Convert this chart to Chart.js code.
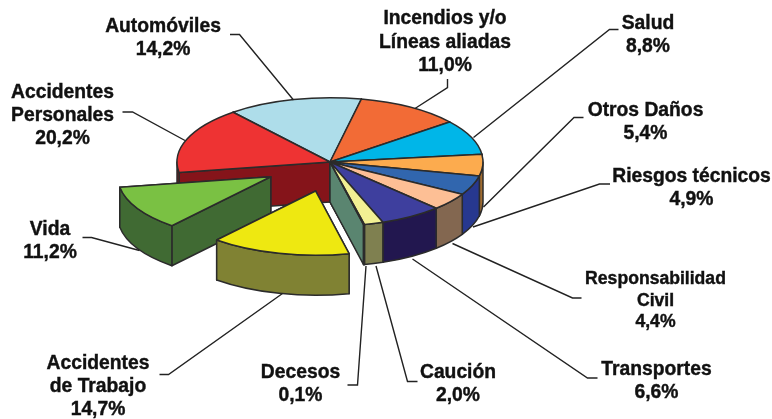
<!DOCTYPE html>
<html lang="es">
<head>
<meta charset="utf-8">
<title>Distribución de primas</title>
<style>html,body{margin:0;padding:0;background:#fff}canvas{display:block}</style>
<script src="https://cdn.jsdelivr.net/npm/chart.js@4"></script>
</head>
<body>
<canvas id="c" width="772" height="419"></canvas>
<script>
// ---- data ----
const categories = ['Automóviles','Incendios y/o Líneas aliadas','Salud','Otros Daños','Riesgos técnicos','Responsabilidad Civil','Transportes','Caución','Decesos','Accidentes de Trabajo','Vida','Accidentes Personales'];
// slice shares as drawn in the picture
const sliceShares = [14.2,11.0,8.8,5.4,4.9,4.4,6.6,2.0,0.1,14.7,11.2,16.7];
// percentages as printed on the labels
const printedPercents = ['14,2%','11,0%','8,8%','5,4%','4,9%','4,4%','6,6%','2,0%','0,1%','14,7%','11,2%','20,2%'];
const pulledOut = ['Accidentes de Trabajo','Vida'];

// ---- styles ----
const topColors  = ['#aeddea','#f26b36','#00b6e8','#fcab4e','#3166ae','#fdbf95','#3e3f9e','#f2f093','#8fc7a8','#eee811','#7ac143','#ee3333'];
const wallColors = ['#6f8d95','#9a4522','#007494','#a06c31','#27388f','#836750','#22174f','#7f8050','#5a8570','#808233','#406a33','#85141a'];
const SQUASH = 0.42, DEPTH = 40, PULL = 71, PULL_SHIFT_X = 2.5, RADIUS = 153, EDGE = '#2b2b2b';

// label layout: line breaks, centre x, baseline of first line, line gap, font size
const labelLayout = [
  {lines:['Automóviles'], x:163, y:32, gap:23},
  {lines:['Incendios y/o','Líneas aliadas'], x:445, y:24, gap:23.5},
  {lines:['Salud'], x:648, y:29, gap:23},
  {lines:['Otros Daños'], x:645.5, y:116, gap:23},
  {lines:['Riesgos técnicos'], x:691.5, y:182, gap:23},
  {lines:['Responsabilidad','Civil'], x:655.5, y:284, gap:21.5, size:17.6},
  {lines:['Transportes'], x:656.5, y:375, gap:23},
  {lines:['Caución'], x:458, y:378, gap:23},
  {lines:['Decesos'], x:300.5, y:378, gap:23},
  {lines:['Accidentes','de Trabajo'], x:98, y:369, gap:23},
  {lines:['Vida'], x:50, y:235, gap:23},
  {lines:['Accidentes','Personales'], x:62.5, y:98, gap:23}
];
const leaders = [
  [[230,34.5],[239.5,34.5],[293.5,100]],
  [[447.5,79],[447.5,87.5],[415,108.5]],
  [[618.5,29.5],[609.5,29.5],[473.5,137.5]],
  [[583.5,117.5],[574,117.5],[483.5,207]],
  [[610,184],[599.5,184],[473,227]],
  [[581.5,298],[572.5,298],[452.5,243.5]],
  [[597.5,378],[587.5,378],[412.5,259]],
  [[417.5,381.5],[407.5,381.5],[376,266]],
  [[347.5,385],[357.5,385],[366,266]],
  [[159.5,374.5],[168.5,374.5],[282.5,293.5]],
  [[82.5,237.5],[91.5,237.5],[139.5,250.5]],
  [[122.5,112],[132.5,112],[185,140.5]]
];

function sliceGeom(arc, i) {
  const mid = (arc.startAngle + arc.endAngle) / 2;
  const pull = pulledOut.includes(categories[i]) ? PULL : 0;
  return {
    i, a0: arc.startAngle, a1: arc.endAngle, r: arc.outerRadius, pull,
    cx: arc.x + Math.cos(mid) * pull + (pull ? PULL_SHIFT_X : 0),
    cy: arc.y + Math.sin(mid) * pull * SQUASH
  };
}
function stroke(ctx) {
  ctx.strokeStyle = EDGE; ctx.lineWidth = 1.5; ctx.lineJoin = 'round'; ctx.stroke();
}
function radialWall(ctx, s, a) {
  const x = s.cx + Math.cos(a) * s.r, y = s.cy + Math.sin(a) * s.r * SQUASH;
  ctx.beginPath();
  ctx.moveTo(s.cx, s.cy); ctx.lineTo(x, y); ctx.lineTo(x, y + DEPTH); ctx.lineTo(s.cx, s.cy + DEPTH);
  ctx.closePath();
  ctx.fillStyle = wallColors[s.i]; ctx.fill(); stroke(ctx);
}
function outerWall(ctx, s) {
  // only the near half of the rim (angles 0..PI, modulo a full turn) can be seen
  for (let k = -1; k <= 1; k++) {
    const lo = Math.max(s.a0, k * 2 * Math.PI), hi = Math.min(s.a1, k * 2 * Math.PI + Math.PI);
    if (hi <= lo) continue;
    ctx.beginPath();
    ctx.ellipse(s.cx, s.cy, s.r, s.r * SQUASH, 0, lo, hi, false);
    ctx.ellipse(s.cx, s.cy + DEPTH, s.r, s.r * SQUASH, 0, hi, lo, true);
    ctx.closePath();
    ctx.fillStyle = wallColors[s.i]; ctx.fill(); stroke(ctx);
  }
}
function topFace(ctx, s) {
  ctx.beginPath();
  ctx.moveTo(s.cx, s.cy);
  ctx.ellipse(s.cx, s.cy, s.r, s.r * SQUASH, 0, s.a0, s.a1, false);
  ctx.closePath();
  ctx.fillStyle = topColors[s.i]; ctx.fill(); stroke(ctx);
}

const pie3d = {
  id: 'pie3d',
  beforeDatasetDraw(chart) {
    const ctx = chart.ctx;
    const slices = chart.getDatasetMeta(0).data.map(sliceGeom);
    const body = slices.filter(s => !s.pull);
    // inner walls of the body, far to near
    const walls = [];
    body.forEach(s => { walls.push({s, a: s.a0}, {s, a: s.a1}); });
    walls.sort((p, q) => Math.sin(p.a) - Math.sin(q.a));
    ctx.save();
    walls.forEach(w => radialWall(ctx, w.s, w.a));
    body.forEach(s => outerWall(ctx, s));
    body.forEach(s => topFace(ctx, s));
    // pulled-out slices, far to near
    slices.filter(s => s.pull).sort((p, q) => p.cy - q.cy).forEach(s => {
      radialWall(ctx, s, s.a1); radialWall(ctx, s, s.a0);
      outerWall(ctx, s); topFace(ctx, s);
    });
    ctx.restore();
    return false;
  },
  afterDatasetsDraw(chart) {
    const ctx = chart.ctx;
    ctx.save();
    ctx.strokeStyle = '#222'; ctx.lineWidth = 1.4; ctx.lineJoin = 'miter';
    leaders.forEach(pts => {
      ctx.beginPath();
      pts.forEach((p, j) => j ? ctx.lineTo(p[0], p[1]) : ctx.moveTo(p[0], p[1]));
      ctx.stroke();
    });
    ctx.fillStyle = '#111'; ctx.strokeStyle = '#111'; ctx.lineWidth = 0.4;
    ctx.textAlign = 'center'; ctx.textBaseline = 'alphabetic';
    labelLayout.forEach((l, i) => {
      ctx.font = 'bold ' + (l.size || 19.3) + 'px "Liberation Sans", Arial, sans-serif';
      l.lines.concat(printedPercents[i]).forEach((t, j) => {
        ctx.fillText(t, l.x, l.y + j * l.gap);
        ctx.strokeText(t, l.x, l.y + j * l.gap);
      });
    });
    ctx.restore();
  }
};

new Chart(document.getElementById('c'), {
  type: 'pie',
  data: { labels: categories, datasets: [{ data: sliceShares, backgroundColor: topColors }] },
  options: {
    responsive: false,
    animation: false,
    events: [],
    rotation: -39.3,
    radius: RADIUS,
    layout: { padding: { left: 0, right: 112, top: 0, bottom: 95 } },
    plugins: { legend: { display: false }, tooltip: { enabled: false }, title: { display: false } }
  },
  plugins: [pie3d]
});
</script>
</body>
</html>
